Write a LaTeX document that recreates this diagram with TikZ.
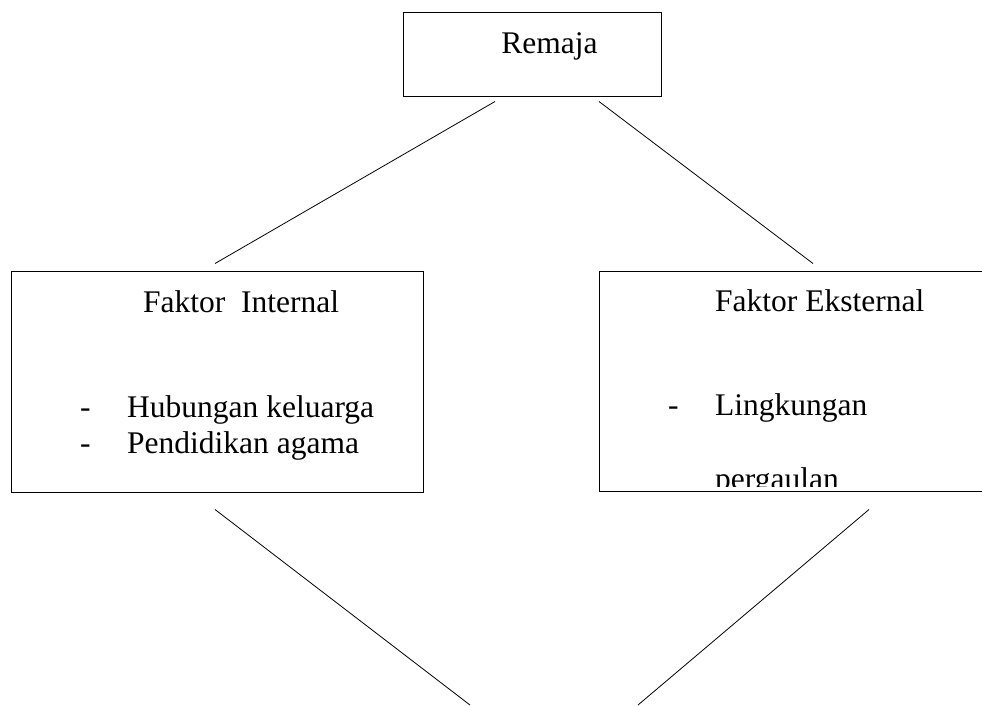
\documentclass[tikz,border=0pt]{standalone}
\usepackage{fontspec}
\setmainfont{Liberation Serif}
\usetikzlibrary{positioning}

\tikzset{
    kotak/.style={draw, line width=1pt, inner sep=0pt},
    teks/.style={inner sep=0pt, anchor=base west, font=\fontsize{31.5}{37}\selectfont},
    garis/.style={line width=0.8pt}
}

\begin{document}
\begin{tikzpicture}[x=1pt, y=-1pt]

    \useasboundingbox (0,0) rectangle (982,705);
    \clip (0,0) rectangle (982,705);

    % Remaja
    \node[kotak, minimum width=258pt, minimum height=84pt] (remaja) at (532,54) {};
    \node[teks, anchor=base] (remajaT) at (549.5,53) {Remaja};

    % Faktor internal
    \node[kotak, minimum width=412pt, minimum height=221pt] (internal) at (217,381.5) {};
    \node[teks] (internalT) at (143,312) {Faktor\ \ Internal};
    \node[teks] (dashA) at (80,417) {-};
    \node[teks] (hubungan) at (127,417) {Hubungan keluarga};
    \node[teks] (dashB) at (80,453) {-};
    \node[teks] (pendidikan) at (127,453) {Pendidikan agama};

    % Faktor eksternal
    \begin{scope}
        \clip (599,0) rectangle (990,486);
        \node[teks] (pergaulan) at (715,489) {pergaulan};
    \end{scope}
    \node[kotak, minimum width=391pt, minimum height=220pt] (eksternal) at (794.5,381) {};
    \node[teks] (eksternalT) at (715,311) {Faktor Eksternal};
    \node[teks] (dashC) at (668,415) {-};
    \node[teks] (lingkungan) at (715,415) {Lingkungan};

    % Garis atas
    \draw[garis] ([xshift=-37pt, yshift=-5pt]remaja.south) -- ([xshift=-2pt, yshift=7pt]internal.north);
    \draw[garis] ([xshift=67pt, yshift=-5pt]remaja.south) -- ([xshift=18.5pt, yshift=7pt]eksternal.north);

    % Garis bawah
    \coordinate (ujungA) at (470,705);
    \coordinate (ujungB) at (638,705);
    \draw[garis] ([xshift=-2pt, yshift=-17pt]internal.south) -- (ujungA);
    \draw[garis] ([xshift=74.5pt, yshift=-18pt]eksternal.south) -- (ujungB);

\end{tikzpicture}
\end{document}
